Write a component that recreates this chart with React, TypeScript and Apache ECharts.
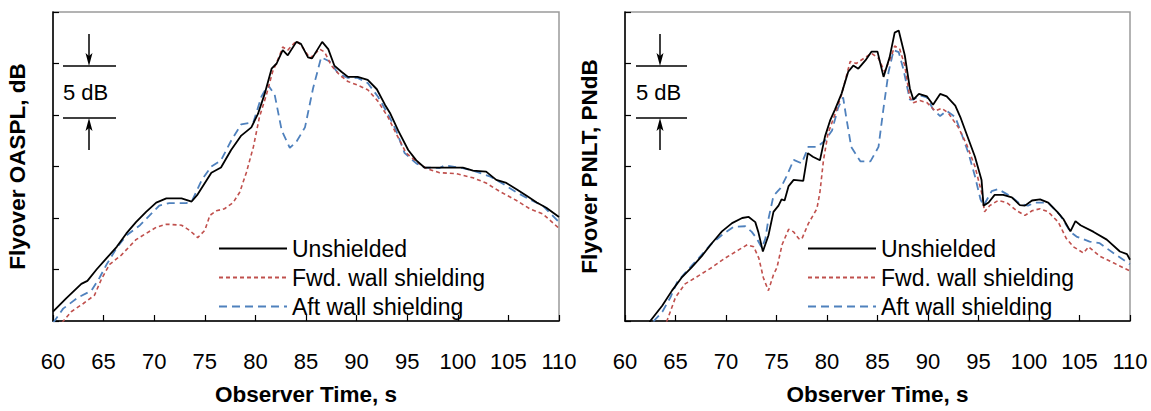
import React, { useEffect, useRef } from "react";
import * as echarts from "echarts";

// Observer time (s) vs relative level (dB); y axis spans 30 dB, ticks every 5 dB
const timeTicks = [60, 65, 70, 75, 80, 85, 90, 95, 100, 105, 110];
const seriesNames = ["Unshielded", "Fwd. wall shielding", "Aft wall shielding"];

const oasplUnshielded = [[60,0.9],[61.3,2.2],[62.8,3.6],[63.4,3.9],[64.3,5.0],[65.3,6.1],[66.3,7.2],[67.25,8.5],[68.2,9.6],[69.2,10.6],[70.2,11.5],[71.2,11.9],[72.7,11.9],[73.7,11.6],[74.3,12.3],[75.65,14.4],[76.6,14.9],[77.6,16.6],[78.6,18.0],[79.6,18.8],[80.25,20.1],[80.9,22.0],[81.6,24.5],[82.1,25.0],[82.7,26.3],[83.2,25.8],[84.05,27.1],[84.5,26.9],[85.2,25.6],[85.6,25.5],[86.6,27.1],[87.2,26.4],[87.8,24.8],[88.5,24.2],[89.15,23.7],[90.1,23.7],[91.1,23.4],[92.0,22.5],[92.8,21.0],[93.3,20.2],[94.1,18.5],[95.1,16.6],[95.9,15.6],[96.7,14.9],[98.2,14.9],[100.5,14.9],[101.5,14.6],[102.8,14.5],[103.8,13.7],[104.8,13.4],[105.8,12.8],[106.8,12.15],[107.8,11.5],[108.75,11.0],[110,10.1]];
const oasplFwd = [[60,-1.2],[61.8,0.9],[63.0,1.7],[64.1,2.5],[64.8,4.1],[65.6,5.5],[66.75,6.4],[68.2,7.9],[69.2,8.5],[70.2,9.1],[71.2,9.4],[72.7,9.3],[73.5,8.8],[74.3,8.1],[75.0,8.8],[75.5,10.25],[76.15,10.7],[76.95,10.9],[77.8,11.5],[78.45,12.5],[79.1,14.4],[79.8,16.9],[80.4,19.8],[81.1,22.0],[81.7,24.2],[82.4,25.8],[82.7,26.6],[83.2,26.3],[84.05,27.2],[84.5,26.8],[85.4,25.5],[86.35,26.4],[86.85,26.1],[87.5,24.8],[88.3,23.9],[89.15,23.25],[90.1,22.9],[91.1,22.45],[92.1,21.35],[93.1,19.8],[93.9,18.2],[94.9,16.3],[95.9,15.5],[96.9,14.8],[98.2,14.4],[99.9,14.3],[101.5,13.9],[102.8,13.4],[104.1,12.6],[105.8,11.7],[107.1,10.9],[108.4,10.4],[110,9.0]];
const oasplAft = [[60,-0.2],[61,1.2],[62.5,2.3],[63.8,2.95],[64.6,4.2],[65.3,5.5],[66.3,7.1],[67.25,8.3],[68.6,9.3],[69.55,10.25],[70.5,11.2],[71.5,11.45],[73.2,11.45],[73.8,11.8],[74.7,13.7],[75.65,15.0],[76.6,15.6],[77.6,17.5],[78.6,19.1],[79.8,19.3],[80.6,21.8],[81.25,22.9],[81.9,22.0],[82.6,18.5],[83.4,16.8],[84.05,17.4],[84.9,18.8],[85.7,22.6],[86.5,25.6],[87.35,25.2],[88.2,24.0],[89.15,23.6],[90.1,23.6],[91.1,23.1],[92.1,21.8],[93.1,20.1],[93.9,18.5],[94.75,16.3],[95.9,15.3],[96.7,14.9],[98.2,14.85],[98.7,15.1],[100.5,14.85],[101.8,14.5],[103.15,14.05],[104.5,13.3],[105.8,12.5],[107.1,11.8],[108.4,11.2],[110,9.6]];

const pnltUnshielded = [[62,-1.2],[62.5,0],[63.7,1.5],[64.65,2.95],[65.6,4.2],[66.6,5.2],[67.6,6.3],[68.6,7.55],[69.6,8.7],[70.6,9.5],[71.6,10.0],[72.25,10.1],[72.9,9.6],[73.2,8.65],[73.65,6.75],[74.2,8.3],[74.7,10.6],[75.2,11.2],[75.5,11.8],[75.8,11.7],[76.2,13.1],[76.7,13.7],[77.65,13.6],[78.1,16.3],[78.6,15.95],[79.3,15.6],[79.8,17.9],[80.3,19.45],[80.8,20.55],[81.45,22.1],[82.1,24.2],[82.6,24.8],[83.1,24.5],[83.8,25.3],[84.4,26.15],[85.0,26.15],[85.6,23.7],[86.2,25.6],[86.7,28.0],[87.1,28.2],[87.7,25.8],[88.2,22.6],[88.55,21.5],[89.1,22.05],[89.9,21.8],[90.5,21.0],[91.2,22.05],[91.85,21.8],[92.7,20.9],[93.2,19.8],[93.8,18.2],[94.65,15.95],[95.3,13.7],[95.5,11.2],[96.0,11.5],[96.6,12.25],[97.45,12.25],[98.3,12.0],[99.1,11.25],[99.6,11.2],[100.3,11.7],[101.1,11.8],[101.9,11.5],[102.8,10.6],[103.4,9.9],[104.1,8.7],[104.6,9.7],[105.1,9.3],[106.4,8.65],[107.7,7.9],[109.0,6.75],[109.7,6.5],[110,5.95]];
const pnltFwd = [[63.5,-1.3],[64.15,0],[65.0,2.3],[65.95,3.6],[67.3,4.4],[68.6,5.2],[69.9,6.1],[71.25,6.9],[72.1,7.4],[72.75,7.2],[73.25,6.1],[73.7,4.2],[74.2,2.95],[74.7,4.5],[75.05,5.2],[75.55,7.4],[76.2,8.9],[76.7,8.65],[77.2,8.0],[77.5,7.95],[78.15,9.45],[79.0,10.9],[79.3,12.5],[79.65,15.6],[80.1,18.2],[80.8,20.1],[81.45,22.0],[81.95,23.9],[82.3,25.2],[82.9,25.0],[83.8,25.6],[84.4,26.0],[85.1,25.5],[85.7,24.2],[86.4,25.8],[86.7,26.7],[87.2,26.4],[87.7,24.8],[88.2,21.7],[88.55,21.2],[89.2,21.4],[89.9,21.2],[90.7,20.4],[91.35,20.65],[92.0,20.2],[93.0,18.8],[93.8,17.2],[94.65,15.0],[95.3,12.5],[95.6,10.6],[96.1,11.2],[96.95,11.7],[97.8,11.5],[98.8,10.7],[99.6,10.25],[100.3,10.7],[101.1,10.9],[101.9,10.6],[102.9,9.6],[103.7,8.0],[104.4,7.2],[105.4,6.6],[105.9,7.2],[107.0,6.3],[108.35,5.65],[110,4.85]];
const pnltAft = [[62.3,-1.2],[62.85,0],[63.7,0.9],[64.5,2.3],[65.15,3.75],[66.1,4.85],[67.3,6.1],[68.45,7.4],[69.6,8.35],[70.75,9.15],[71.9,9.2],[72.55,8.65],[73.05,8.0],[73.55,7.1],[73.9,8.0],[74.2,9.9],[74.7,12.15],[75.4,12.9],[76.0,14.05],[76.7,15.65],[77.5,15.3],[78.15,16.9],[79.0,16.9],[79.8,17.5],[80.5,18.5],[81.1,20.7],[81.6,21.7],[81.9,19.8],[82.4,16.9],[83.3,15.5],[84.3,15.5],[85.1,16.9],[85.6,20.7],[86.1,24.2],[86.6,26.3],[87.1,26.1],[87.55,24.5],[88.2,21.5],[88.55,21.5],[89.2,21.9],[89.9,21.7],[90.5,20.55],[91.2,19.9],[91.85,20.4],[92.7,19.8],[93.2,18.5],[94.0,16.3],[94.65,14.05],[95.2,11.8],[95.5,11.2],[96.3,12.6],[96.95,12.8],[98.1,12.15],[99.1,11.4],[99.9,11.2],[100.6,11.5],[101.9,11.5],[103.1,10.25],[104.1,8.65],[104.7,8.2],[106.0,7.7],[107.0,7.55],[108.35,6.6],[110,5.5]];

const FONT = "'Liberation Sans', Arial, sans-serif";

function scaleBar(x0: number, x1: number, xa: number, yTop: number, yBot: number) {
  const s = { stroke: "#000", lineWidth: 1.5 };
  return [
    { type: "line", shape: { x1: x0, y1: yTop, x2: x1, y2: yTop }, style: s },
    { type: "line", shape: { x1: x0, y1: yBot, x2: x1, y2: yBot }, style: s },
    { type: "line", shape: { x1: xa, y1: yTop - 32, x2: xa, y2: yTop - 4 }, style: s },
    { type: "polygon", shape: { points: [[xa, yTop], [xa - 3.5, yTop - 13], [xa, yTop - 10], [xa + 3.5, yTop - 13]] }, style: { fill: "#000" } },
    { type: "line", shape: { x1: xa, y1: yBot + 4, x2: xa, y2: yBot + 32 }, style: s },
    { type: "polygon", shape: { points: [[xa, yBot], [xa - 3.5, yBot + 13], [xa, yBot + 10], [xa + 3.5, yBot + 13]] }, style: { fill: "#000" } },
    { type: "text", x: x0, y: (yTop + yBot) / 2, style: { text: "5 dB", font: `22px ${FONT}`, fill: "#000", textVerticalAlign: "middle" } },
  ];
}

export default function App() {
  const ref = useRef<HTMLDivElement>(null);
  useEffect(() => {
    if (!ref.current) return;
    const chart = echarts.init(ref.current, null, { renderer: "svg" });
    const mkX = (gi: number) => ({
      type: "value", gridIndex: gi, min: 60, max: 110, interval: 5,
      axisLine: { show: true, onZero: false, lineStyle: { color: "#000", width: 1.5 } },
      axisTick: { show: true, inside: true, length: 6, lineStyle: { color: "#000", width: 1.2 } },
      axisLabel: { fontSize: 22, color: "#000", fontFamily: FONT, margin: 29,
        formatter: (v: number) => (timeTicks.includes(v) ? String(v) : "") },
      splitLine: { show: false },
      name: "Observer Time, s", nameLocation: "middle", nameGap: 62,
      nameTextStyle: { fontSize: 22.5, fontWeight: "bold", color: "#000", fontFamily: FONT },
    });
    const mkY = (gi: number, name: string) => ({
      type: "value", gridIndex: gi, min: 0, max: 30, interval: 5,
      axisLine: { show: true, lineStyle: { color: "#000", width: 1.5 } },
      axisTick: { show: true, inside: true, length: 6, lineStyle: { color: "#000", width: 1.2 } },
      axisLabel: { show: false },
      splitLine: { show: false },
      name, nameLocation: "middle", nameGap: 24,
      nameTextStyle: { fontSize: 22.5, fontWeight: "bold", color: "#000", fontFamily: FONT },
    });
    const styles = [
      { color: "#000000", width: 1.8, type: "solid" as any },
      { color: "#C0504D", width: 1.6, type: [4, 3] as any },
      { color: "#4F81BD", width: 1.8, type: [8, 5] as any },
    ];
    const panels = [
      [oasplUnshielded, oasplFwd, oasplAft],
      [pnltUnshielded, pnltFwd, pnltAft],
    ];
    const series: any[] = [];
    panels.forEach((p, gi) => {
      p.forEach((d, i) => {
        series.push({
          type: "line", name: seriesNames[i], xAxisIndex: gi, yAxisIndex: gi,
          data: d, showSymbol: false, symbol: "none", smooth: false, clip: true,
          lineStyle: styles[i], itemStyle: { color: styles[i].color },
          z: 10 - i,
        });
      });
    });
    const legendBase = {
      data: seriesNames, orient: "vertical", top: 237, itemWidth: 68, itemHeight: 14, itemGap: 6,
      padding: 0, selectedMode: false,
      itemStyle: { opacity: 0 },
      textStyle: { fontSize: 23, color: "#000", fontFamily: FONT },
    };
    chart.setOption({
      animation: false,
      backgroundColor: "#fff",
      grid: [
        { left: 53, right: 592, top: 12, bottom: 83, show: true, borderColor: "#9a9a9a", borderWidth: 1.5 },
        { left: 625, right: 21, top: 12, bottom: 83, show: true, borderColor: "#9a9a9a", borderWidth: 1.5 },
      ],
      xAxis: [mkX(0), mkX(1)],
      yAxis: [mkY(0, "Flyover OASPL, dB"), mkY(1, "Flyover PNLT, PNdB")],
      legend: [
        { ...legendBase, left: 218 },
        { ...legendBase, left: 807 },
      ],
      graphic: [
        ...scaleBar(63, 116, 89, 66, 118),
        ...scaleBar(636, 687, 660, 66, 118),
      ],
      series,
    });
    return () => chart.dispose();
  }, []);
  return (
    <div ref={ref} style={{ position: "fixed", left: 0, top: 0, width: 1151, height: 411, background: "#fff" }} />
  );
}
